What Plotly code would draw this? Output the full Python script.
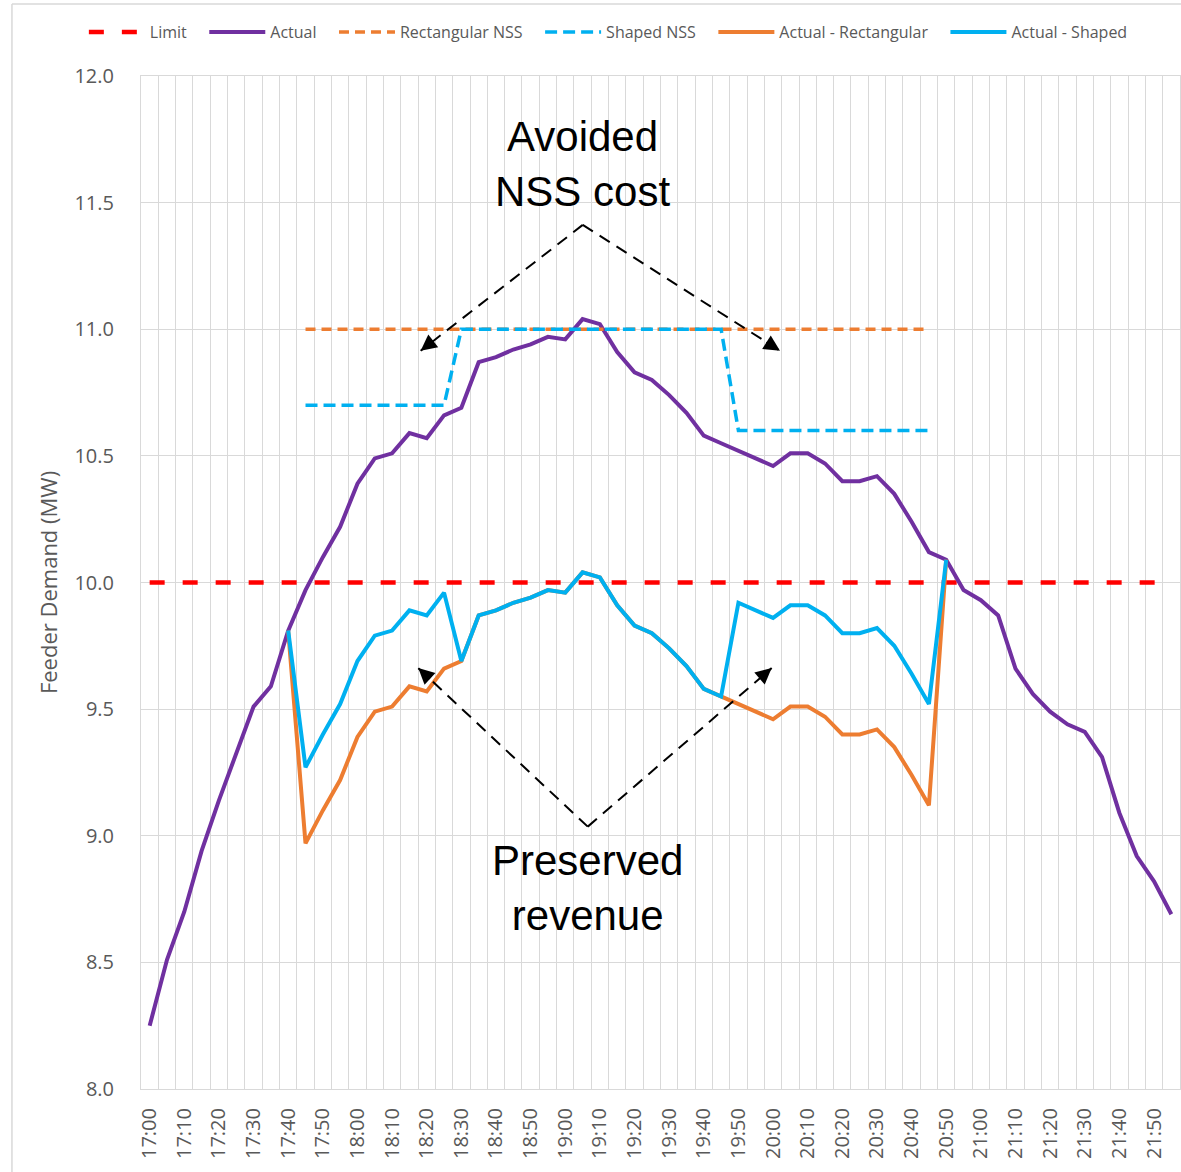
import plotly.graph_objects as go

times = ["17:00","17:05","17:10","17:15","17:20","17:25","17:30","17:35","17:40","17:45",
         "17:50","17:55","18:00","18:05","18:10","18:15","18:20","18:25","18:30","18:35",
         "18:40","18:45","18:50","18:55","19:00","19:05","19:10","19:15","19:20","19:25",
         "19:30","19:35","19:40","19:45","19:50","19:55","20:00","20:05","20:10","20:15",
         "20:20","20:25","20:30","20:35","20:40","20:45","20:50","20:55","21:00","21:05",
         "21:10","21:15","21:20","21:25","21:30","21:35","21:40","21:45","21:50","21:55"]

limit = [10.0] * 60

actual = [8.25, 8.51, 8.70, 8.94, 9.14, 9.33, 9.51, 9.59, 9.81, 9.97,
          10.10, 10.22, 10.39, 10.49, 10.51, 10.59, 10.57, 10.66, 10.69, 10.87,
          10.89, 10.92, 10.94, 10.97, 10.96, 11.04, 11.02, 10.91, 10.83, 10.80,
          10.74, 10.67, 10.58, 10.55, 10.52, 10.49, 10.46, 10.51, 10.51, 10.47,
          10.40, 10.40, 10.42, 10.35, 10.24, 10.12, 10.09, 9.97, 9.93, 9.87,
          9.66, 9.56, 9.49, 9.44, 9.41, 9.31, 9.09, 8.92, 8.82, 8.69]

N = None
rect_nss = [N, N, N, N, N, N, N, N, N, 11.0,
            11.0, 11.0, 11.0, 11.0, 11.0, 11.0, 11.0, 11.0, 11.0, 11.0,
            11.0, 11.0, 11.0, 11.0, 11.0, 11.0, 11.0, 11.0, 11.0, 11.0,
            11.0, 11.0, 11.0, 11.0, 11.0, 11.0, 11.0, 11.0, 11.0, 11.0,
            11.0, 11.0, 11.0, 11.0, 11.0, 11.0, N, N, N, N,
            N, N, N, N, N, N, N, N, N, N]

shaped_nss = [N, N, N, N, N, N, N, N, N, 10.7,
              10.7, 10.7, 10.7, 10.7, 10.7, 10.7, 10.7, 10.7, 11.0, 11.0,
              11.0, 11.0, 11.0, 11.0, 11.0, 11.0, 11.0, 11.0, 11.0, 11.0,
              11.0, 11.0, 11.0, 11.0, 10.6, 10.6, 10.6, 10.6, 10.6, 10.6,
              10.6, 10.6, 10.6, 10.6, 10.6, 10.6, N, N, N, N,
              N, N, N, N, N, N, N, N, N, N]

actual_rect = [N, N, N, N, N, N, N, N, 9.81, 8.97,
               9.10, 9.22, 9.39, 9.49, 9.51, 9.59, 9.57, 9.66, 9.69, 9.87,
               9.89, 9.92, 9.94, 9.97, 9.96, 10.04, 10.02, 9.91, 9.83, 9.80,
               9.74, 9.67, 9.58, 9.55, 9.52, 9.49, 9.46, 9.51, 9.51, 9.47,
               9.40, 9.40, 9.42, 9.35, 9.24, 9.12, 10.09, N, N, N,
               N, N, N, N, N, N, N, N, N, N]

actual_shaped = [N, N, N, N, N, N, N, N, 9.81, 9.27,
                 9.40, 9.52, 9.69, 9.79, 9.81, 9.89, 9.87, 9.96, 9.69, 9.87,
                 9.89, 9.92, 9.94, 9.97, 9.96, 10.04, 10.02, 9.91, 9.83, 9.80,
                 9.74, 9.67, 9.58, 9.55, 9.92, 9.89, 9.86, 9.91, 9.91, 9.87,
                 9.80, 9.80, 9.82, 9.75, 9.64, 9.52, 10.09, N, N, N,
                 N, N, N, N, N, N, N, N, N, N]

y_ticks = [8.0, 8.5, 9.0, 9.5, 10.0, 10.5, 11.0, 11.5, 12.0]

x = list(range(len(times)))
tick_idx = x[::2]
tick_txt = times[::2]

GRAY_TXT = "#595959"
GRID = "#d9d9d9"
PAD = "\u00a0\u00a0\u00a0"

fig = go.Figure()
fig.add_trace(go.Scatter(x=x, y=limit, name="Limit" + PAD, mode="lines",
                         line=dict(color="#FF0000", width=4.5, dash="15px,18px")))
fig.add_trace(go.Scatter(x=x, y=actual, name="Actual" + PAD, mode="lines",
                         line=dict(color="#7030A0", width=4)))
fig.add_trace(go.Scatter(x=x, y=rect_nss, name="Rectangular NSS" + PAD, mode="lines",
                         line=dict(color="#ED7D31", width=3.5, dash="10px,6px")))
fig.add_trace(go.Scatter(x=x, y=shaped_nss, name="Shaped NSS" + PAD, mode="lines",
                         line=dict(color="#00B0F0", width=3.5, dash="12px,6px")))
fig.add_trace(go.Scatter(x=x, y=actual_rect, name="Actual - Rectangular" + PAD, mode="lines",
                         line=dict(color="#ED7D31", width=4)))
fig.add_trace(go.Scatter(x=x, y=actual_shaped, name="Actual - Shaped", mode="lines",
                         line=dict(color="#00B0F0", width=4)))

# annotation geometry (data coords)
up_apex = (25.01, 11.412)
up_left = (15.65, 10.915)
up_right = (36.40, 10.915)
lo_apex = (25.30, 9.036)
lo_left = (15.51, 9.662)
lo_right = (35.92, 9.662)

shapes = []
for a, b in [(up_apex, up_left), (up_apex, up_right), (lo_apex, lo_left), (lo_apex, lo_right)]:
    shapes.append(dict(type="line", xref="x", yref="y", x0=a[0], y0=a[1], x1=b[0], y1=b[1],
                       line=dict(color="black", width=2, dash="12px,8px")))
# chart border (left and top)
shapes.append(dict(type="line", xref="paper", yref="paper", x0=-0.1242, x1=1.2, y0=1.0711, y1=1.0711,
                   line=dict(color=GRID, width=1.5)))
shapes.append(dict(type="line", xref="paper", yref="paper", x0=-0.1242, x1=-0.1242, y0=-0.2, y1=1.0711,
                   line=dict(color=GRID, width=1.5)))

annotations = []
for tip, (ax, ay) in [(up_left, (14, -11)), (up_right, (-15, -9.5)),
                      (lo_left, (13, 12)), (lo_right, (-13.5, 11.6))]:
    annotations.append(dict(x=tip[0], y=tip[1], xref="x", yref="y", ax=ax, ay=ay,
                            text="", showarrow=True, arrowhead=2, arrowsize=1.6,
                            arrowwidth=2, arrowcolor="black", standoff=0))
annotations.append(dict(x=25.0, y=11.653, xref="x", yref="y", text="Avoided<br>NSS cost",
                        showarrow=False, font=dict(family="Liberation Sans, Arial", size=42, color="black")))
annotations.append(dict(x=25.3, y=8.794, xref="x", yref="y", text="Preserved<br>revenue",
                        showarrow=False, font=dict(family="Liberation Sans, Arial", size=42, color="black")))

fig.update_layout(
    width=1181, height=1172,
    margin=dict(l=141, r=1, t=76, b=83),
    paper_bgcolor="white", plot_bgcolor="white",
    font=dict(family="Open Sans", color=GRAY_TXT),
    showlegend=True,
    legend=dict(orientation="h", x=-0.055, xanchor="left", y=1.0434, yanchor="middle",
                font=dict(family="Open Sans", size=16, color=GRAY_TXT),
                itemwidth=56, bgcolor="rgba(0,0,0,0)"),
    shapes=shapes,
    annotations=annotations,
)

fig.update_xaxes(range=[-0.5, 59.5], tickmode="array", tickvals=tick_idx, ticktext=tick_txt,
                 tickangle=-90, tickfont=dict(family="Open Sans", size=20, color=GRAY_TXT),
                 showgrid=False, zeroline=False, ticks="", ticklabelstandoff=10,
                 showline=True, linecolor=GRID, linewidth=1, mirror=True,
                 minor=dict(tickvals=[k - 0.5 for k in range(61)], showgrid=True,
                            gridcolor=GRID, gridwidth=1, ticks=""))
fig.update_yaxes(range=[8.0, 12.0], tickmode="array", tickvals=y_ticks,
                 ticktext=[f"{v:.1f}" for v in y_ticks],
                 tickfont=dict(family="Open Sans", size=20, color=GRAY_TXT),
                 showgrid=True, gridcolor=GRID, gridwidth=1, zeroline=False,
                 ticks="", ticklabelstandoff=22,
                 showline=True, linecolor=GRID, linewidth=1, mirror=True,
                 title=dict(text="Feeder Demand (MW)", standoff=10,
                            font=dict(family="Open Sans", size=22, color=GRAY_TXT)))

fig.write_html("out.html", config={"displayModeBar": False},
               post_script="document.body.style.margin='0';document.body.style.overflow='hidden';")
